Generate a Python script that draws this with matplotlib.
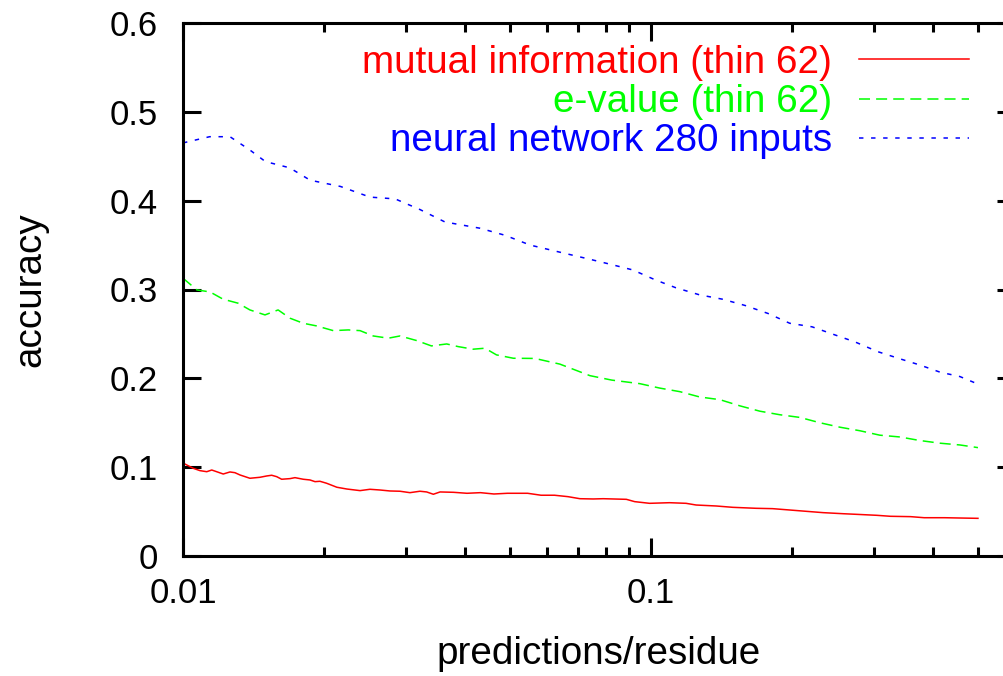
import matplotlib
matplotlib.use("Agg")
import matplotlib.pyplot as plt
from matplotlib.ticker import FixedLocator, NullFormatter

plt.rcParams["font.family"] = ["Liberation Sans", "DejaVu Sans"]

# values (x = predictions/residue, y = accuracy)
mi_x = [0.01002, 0.01052, 0.01087, 0.01124, 0.01152, 0.01180, 0.01219, 0.01260,
        0.01291, 0.01324, 0.0139, 0.01460, 0.01510, 0.01547, 0.01586, 0.01625,
        0.01693, 0.01735, 0.01807, 0.01868, 0.01915, 0.01962, 0.02027, 0.02132,
        0.02240, 0.02390, 0.02509, 0.02636, 0.02769, 0.02909, 0.03055, 0.03209,
        0.03317, 0.03428, 0.03543, 0.03786, 0.04045, 0.04322, 0.04619, 0.04935,
        0.05101, 0.05451, 0.05824, 0.06223, 0.06650, 0.07052, 0.07530, 0.07907,
        0.08862, 0.09230, 0.09935, 0.1096, 0.1189, 0.1249, 0.1379, 0.1496,
        0.1677, 0.1820, 0.1978, 0.2148, 0.2334, 0.2576, 0.2752, 0.3040,
        0.3250, 0.3590, 0.3837, 0.4240, 0.4533, 0.5]
mi_y = [0.1044, 0.0987, 0.0961, 0.0949, 0.0968, 0.0949, 0.0923, 0.0946,
        0.0938, 0.0912, 0.0875, 0.0886, 0.0901, 0.0909, 0.0893, 0.0864,
        0.0871, 0.0882, 0.0864, 0.0856, 0.0837, 0.0841, 0.0819, 0.0774,
        0.0754, 0.0736, 0.0751, 0.0743, 0.0732, 0.0729, 0.0713, 0.0729,
        0.0721, 0.0695, 0.0721, 0.0717, 0.0706, 0.0713, 0.0698, 0.0706,
        0.0706, 0.0706, 0.0684, 0.0684, 0.0668, 0.0645, 0.0642, 0.0645,
        0.0638, 0.0612, 0.0593, 0.0600, 0.0593, 0.0574, 0.0563, 0.0548,
        0.0537, 0.0533, 0.0518, 0.0503, 0.0488, 0.0476, 0.0469, 0.0458,
        0.0447, 0.0443, 0.0431, 0.0431, 0.0428, 0.0424]

ev_x = [0.0100, 0.01071, 0.01142, 0.01218, 0.01311, 0.0139, 0.01497, 0.01597,
        0.01693, 0.01807, 0.01930, 0.02095, 0.02255, 0.02390, 0.02550, 0.02747,
        0.02909, 0.03159, 0.03395, 0.03661, 0.03875, 0.04169, 0.04419, 0.04677,
        0.05083, 0.0565, 0.0639, 0.0741, 0.0825, 0.0947, 0.1045, 0.1153,
        0.1272, 0.1404, 0.155, 0.171, 0.1887, 0.2082, 0.2297, 0.2534,
        0.2797, 0.3085, 0.3405, 0.3757, 0.4146, 0.4575, 0.5]
ev_y = [0.3127, 0.2995, 0.2973, 0.2891, 0.2846, 0.2770, 0.2714, 0.2770,
        0.2677, 0.2620, 0.2590, 0.2537, 0.2545, 0.2537, 0.2477, 0.2452,
        0.2477, 0.2425, 0.2365, 0.2387, 0.2357, 0.2328, 0.2339, 0.2264,
        0.2226, 0.2224, 0.2160, 0.203, 0.198, 0.194, 0.189, 0.185,
        0.179, 0.176, 0.169, 0.163, 0.159, 0.156, 0.150, 0.145,
        0.141, 0.136, 0.134, 0.130, 0.127, 0.125, 0.122]

nn_x = [0.0100, 0.0114, 0.0126, 0.0139, 0.0150, 0.0169, 0.0187, 0.0217,
        0.0251, 0.0284, 0.0321, 0.0363, 0.0431, 0.0488, 0.0552, 0.0639,
        0.0741, 0.0825, 0.0915, 0.102, 0.113, 0.127, 0.1425, 0.159,
        0.178, 0.198, 0.221, 0.247, 0.273, 0.3055, 0.3405, 0.3757,
        0.4146, 0.4575, 0.4923]
nn_y = [0.465, 0.472, 0.472, 0.457, 0.444, 0.437, 0.423, 0.416,
        0.404, 0.402, 0.390, 0.376, 0.369, 0.361, 0.350, 0.342,
        0.334, 0.328, 0.322, 0.311, 0.302, 0.294, 0.289, 0.282,
        0.273, 0.262, 0.258, 0.249, 0.241, 0.230, 0.222, 0.215,
        0.207, 0.202, 0.195]

labels = ["mutual information (thin 62)", "e-value (thin 62)", "neural network 280 inputs"]
y_ticks = [0, 0.1, 0.2, 0.3, 0.4, 0.5, 0.6]
y_tick_labels = ["0", "0.1", "0.2", "0.3", "0.4", "0.5", "0.6"]
x_ticks = [0.01, 0.1]
x_tick_labels = ["0.01", "0.1"]

TICK_FS = 25
FS = 27.8

fig = plt.figure(figsize=(10.04, 6.76), dpi=100)
ax = fig.add_axes([183 / 1004, 120 / 676, 832 / 1004, 533 / 676])

ax.plot(mi_x, mi_y, color="#ff0000", lw=1.1, label=labels[0])
ax.plot(ev_x, ev_y, color="#00ff00", lw=1.1, dashes=(7.2, 4.0), label=labels[1])
ax.plot(nn_x, nn_y, color="#0000ff", lw=1.1, dashes=(2.9, 5.0), label=labels[2])

ax.set_xscale("log")
ax.set_xlim(0.01, 0.6)
ax.set_ylim(0, 0.6)
ax.xaxis.set_major_locator(FixedLocator(x_ticks))
ax.set_xticklabels(x_tick_labels)
ax.xaxis.set_minor_locator(FixedLocator([0.02, 0.03, 0.04, 0.05, 0.06, 0.07, 0.08, 0.09,
                                         0.2, 0.3, 0.4, 0.5]))
ax.xaxis.set_minor_formatter(NullFormatter())
ax.set_yticks(y_ticks)
ax.set_yticklabels(y_tick_labels)

for s in ax.spines.values():
    s.set_linewidth(2.2)
ax.tick_params(which="major", direction="in", length=13, width=2.2,
               top=True, right=True, labelsize=TICK_FS)
ax.tick_params(axis="y", pad=18)
ax.tick_params(axis="x", pad=15)
ax.tick_params(which="minor", direction="in", length=6.5, width=2.2, top=True)

ax.set_xlabel("predictions/residue", fontsize=FS, labelpad=19)
ax.set_ylabel("accuracy", fontsize=FS, labelpad=44)

leg = ax.legend(loc="upper right", bbox_to_anchor=(969 / 1004, 1 - 45 / 676),
                bbox_transform=fig.transFigure, frameon=False, markerfirst=False,
                fontsize=FS, handlelength=2.85, handletextpad=0.7,
                labelspacing=0.08, borderpad=0, borderaxespad=0)
for t, c in zip(leg.get_texts(), ["#ff0000", "#00ff00", "#0000ff"]):
    t.set_color(c)

fig.savefig("out.png", dpi=100)
